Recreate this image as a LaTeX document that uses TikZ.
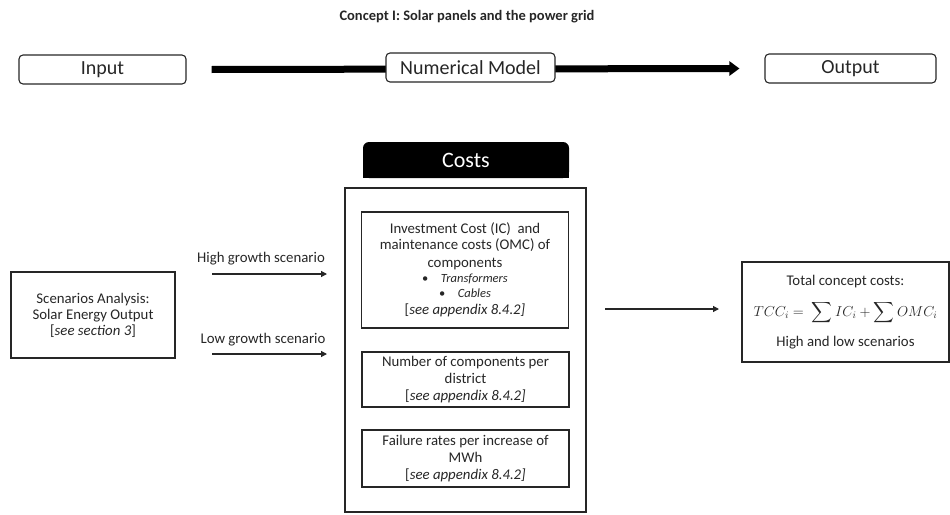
\documentclass[tikz,border=0pt]{standalone}
\usepackage{exscale}
\usepackage{fontspec}
\setmainfont{Carlito}
\usetikzlibrary{arrows.meta}
\definecolor{ink}{HTML}{262626}
\begin{document}
\begin{tikzpicture}[x=1pt,y=-1pt,
  every node/.style={inner sep=0pt, text=ink, font=\fontsize{14.8}{16}\selectfont},
  flowbox/.style={draw=ink, line width=1.1pt, rounded corners=4pt, minimum height=29pt,
                  font=\fontsize{20}{22}\selectfont},
  plainbox/.style={draw=ink, line width=1.3pt, align=center},
  bar/.style={draw=black, line width=7pt, -{Triangle[length=10pt,width=14pt]}},
  flow/.style={draw=ink, line width=1.2pt, -{Triangle[length=6pt,width=6pt]}},
]
\useasboundingbox (0,0) rectangle (950,514);

% title
\node[font=\fontsize{14.5}{16}\bfseries] (title) at (467,17) {Concept I: Solar panels and the power grid};

% input -> numerical model -> output
\node[flowbox, minimum width=167pt] (in) at (102.5,69.5) {Input};
\node[flowbox, minimum width=171pt] (out) at (850.5,68.5) {Output};
\draw[bar] ([xshift=25pt]in.east) -- ([xshift=-25pt]out.west);
\node[flowbox, minimum width=169pt, fill=white] (model) at (470.5,67.5) {Numerical Model};

% costs tab
\fill[black, rounded corners=6pt] (363,142) rectangle (569,178);
\fill[black] (363,162) rectangle (569,178);
\node[text=white, font=\fontsize{22}{26}\selectfont] (costs) at (466,160) {Costs};

% cost frame and its three entries
\node[plainbox, minimum width=241pt, minimum height=324pt] (frame) at (465.5,350) {};
\node[plainbox, minimum width=207pt, minimum height=116pt] (ic) at (465,270) {
  Investment Cost (IC)\ \ and\\
  maintenance costs (OMC) of\\[2pt]
  components\\[-1pt]
  {\fontsize{12.5}{14}\selectfont\textbullet\quad\textit{Transformers}}\\[-1pt]
  {\fontsize{12.5}{14}\selectfont\textbullet\quad\textit{Cables}}\\[1pt]
  {[}\textit{see appendix 8.4.2]}};
\node[plainbox, minimum width=207pt, minimum height=55pt] (num) at (465.5,379.5) {
  Number of components per\\[1pt] district\\[1pt] {[}\textit{see appendix 8.4.2]}};
\node[plainbox, minimum width=207pt, minimum height=57pt] (fail) at (465.5,458.5) {
  Failure rates per increase of\\[1pt] MWh\\[1pt] {[}\textit{see appendix 8.4.2]}};

% scenarios
\node[plainbox, minimum width=164pt, minimum height=86pt]
  (scen) at (93,315) {Scenarios Analysis:\\ Solar Energy Output\\ {[}\textit{see section 3}]};
\coordinate (hs) at (212,274);
\coordinate (he) at (327,274);
\coordinate (ls) at (212,354);
\coordinate (le) at (327,354);
\draw[flow] (hs) -- (he);
\draw[flow] (ls) -- (le);
\node (hl) at (261,259) {High growth scenario};
\node (ll) at (263,340) {Low growth scenario};

% total
\node[plainbox, minimum width=207pt, minimum height=100pt] (tot) at (845.5,312) {
  Total concept costs:\\[12pt]
  {\fontsize{14}{16}\selectfont$\displaystyle TCC_i=\;\sum IC_i+\sum OMC_i$}\\[11pt]
  High and low scenarios};
\coordinate (rs) at (605,309);
\coordinate (re) at (719,309);
\draw[flow] (rs) -- (re);
\end{tikzpicture}
\end{document}
